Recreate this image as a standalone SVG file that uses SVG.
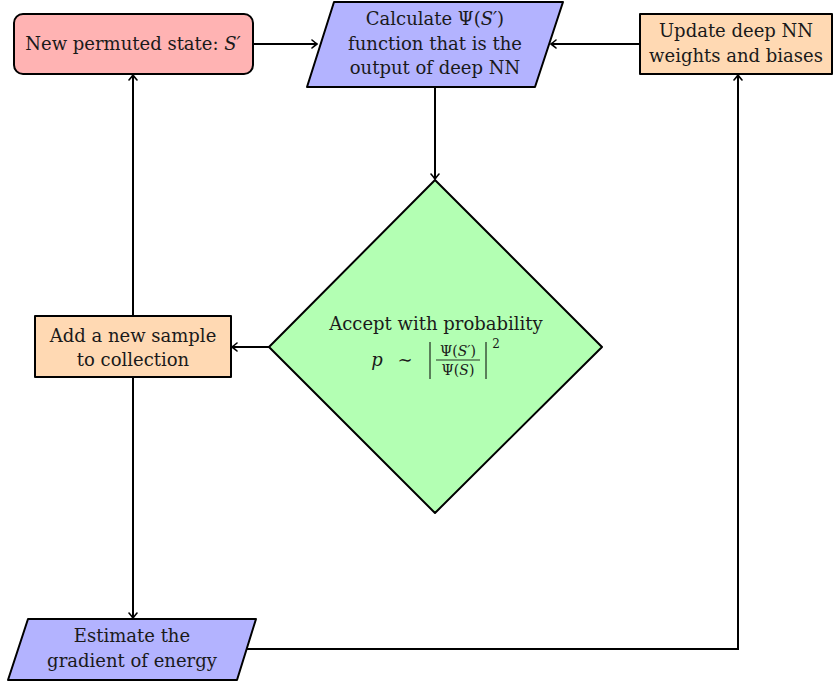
<svg xmlns="http://www.w3.org/2000/svg" width="833" height="684" viewBox="0 0 833 684">
<style>
.n{stroke:#000;stroke-width:2;stroke-linejoin:round}
.red{fill:#ffb3b3}.blue{fill:#b3b3ff}.org{fill:#ffd9b3}.grn{fill:#b3ffb3}
text{font-family:"DejaVu Serif","Liberation Serif",serif;font-size:18px;fill:#1a1a1a;text-anchor:middle}
.sm{font-size:14px}
.sup{font-size:12px}
.it{font-style:italic}
.c{fill:none;stroke:#000;stroke-width:2}
</style>
<defs>
<marker id="ah" viewBox="-6 -5 7 10" markerWidth="7" markerHeight="10" refX="0" refY="0" orient="auto" markerUnits="userSpaceOnUse">
<path d="M-5,-4 Q-1.5,-1 0,0 Q-1.5,1 -5,4" fill="none" stroke="#000" stroke-width="1.6" stroke-linecap="round"/>
</marker>
</defs>
<rect width="833" height="684" fill="#fff"/>
<g id="connectors">
<line class="c" x1="253" y1="44" x2="317" y2="44" marker-end="url(#ah)"/>
<line class="c" x1="640" y1="44" x2="551" y2="44" marker-end="url(#ah)"/>
<line class="c" x1="435" y1="87" x2="435" y2="179" marker-end="url(#ah)"/>
<line class="c" x1="269" y1="347" x2="232" y2="347" marker-end="url(#ah)"/>
<line class="c" x1="133" y1="316" x2="133" y2="75" marker-end="url(#ah)"/>
<line class="c" x1="133" y1="377" x2="133" y2="618" marker-end="url(#ah)"/>
<polyline class="c" points="246,649 738,649 738,75" marker-end="url(#ah)"/>
</g>
<g id="new-state">
<rect class="n red" x="14" y="14" width="239" height="60" rx="9"/>
<text x="133" y="50">New permuted state: <tspan class="it">S′</tspan></text>
</g>
<g id="calc-psi">
<polygon class="n blue" points="334,2 563,2 535,87 307,87"/>
<text x="435" y="25">Calculate Ψ(<tspan class="it">S′</tspan>)</text>
<text x="435" y="50">function that is the</text>
<text x="435" y="74">output of deep NN</text>
</g>
<g id="update-nn">
<rect class="n org" x="640" y="14" width="192" height="60"/>
<text x="736" y="37">Update deep NN</text>
<text x="736" y="62">weights and biases</text>
</g>
<g id="accept">
<polygon class="n grn" points="435,180 602,347 435,513 269,347"/>
<text x="436" y="330">Accept with probability</text>
<text x="377" y="366" class="it">p</text>
<text x="405" y="366">∼</text>
<line x1="430" y1="342" x2="430" y2="379" stroke="#000" stroke-width="1"/>
<text x="458" y="356" class="sm">Ψ(<tspan class="it">S′</tspan>)</text>
<line x1="436" y1="360" x2="480" y2="360" stroke="#000" stroke-width="0.8"/>
<text x="458" y="375" class="sm">Ψ(<tspan class="it">S</tspan>)</text>
<line x1="486" y1="342" x2="486" y2="379" stroke="#000" stroke-width="1"/>
<text x="496" y="348" class="sup">2</text>
</g>
<g id="add-sample">
<rect class="n org" x="35" y="316" width="196" height="61"/>
<text x="133" y="342">Add a new sample</text>
<text x="133" y="366">to collection</text>
</g>
<g id="estimate">
<polygon class="n blue" points="28,619 256,619 237,680 8,680"/>
<text x="132" y="642">Estimate the</text>
<text x="132" y="667">gradient of energy</text>
</g>
</svg>
